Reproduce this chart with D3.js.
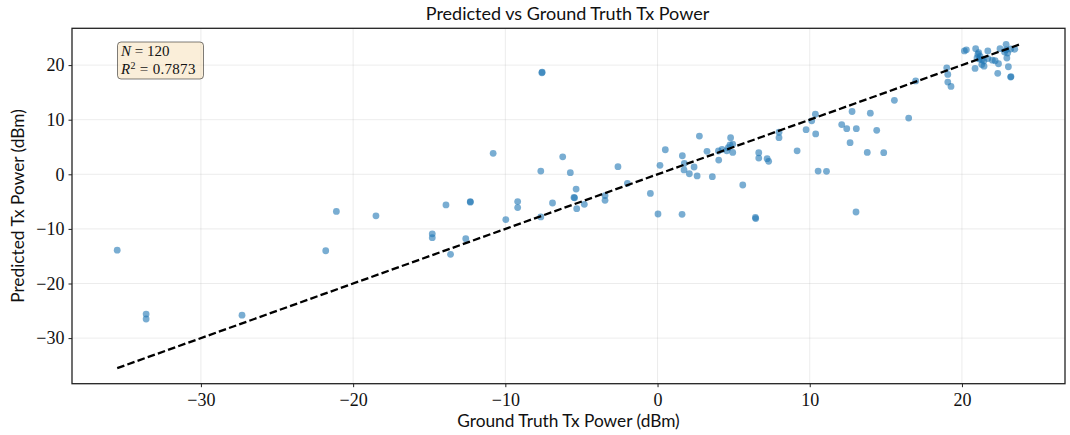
<!DOCTYPE html>
<html>
<head>
<meta charset="utf-8">
<script src="https://cdn.jsdelivr.net/npm/d3@7"></script>
<style>
  html, body { margin: 0; padding: 0; background: #fff; }
  svg { display: block; }
</style>
</head>
<body>
<svg id="chart" width="1070" height="435"></svg>
<script>
// ---- data ----
const groundTruth = [
  -35.5, -33.6, -33.6, -27.3, -21.8, -21.1, -18.5,
  -10.8, -13.9, -12.3, -12.3, -14.8, -14.8, -12.6, -13.6,
  -9.97, -9.19, -9.19, -7.67, -7.67, -6.9, -6.23, -5.73, -5.35, -5.49, -5.45, -5.31, -4.81,
  -3.45, -3.45, -2.6, -1.98, -0.47, 0.03, 0.16, 0.51,
  -7.6, -7.58,
  1.61, 1.63, 1.76, 1.74, 2.09, 2.4, 2.6, 2.75, 3.25, 3.6, 4.02,
  4.0, 4.24, 4.65, 4.76, 4.8, 4.94, 4.94, 4.55,
  5.6, 6.43, 6.45, 6.65, 6.65, 7.2, 7.3, 7.98, 7.98, 9.17, 9.76, 10.13, 10.37, 10.39,
  10.55, 11.1, 12.1, 12.43, 12.78, 12.65, 13.06, 13.04,
  13.98, 15.56, 16.5, 16.96, 19.0, 19.07, 19.07, 19.28, 14.4, 13.78, 14.86,
  20.16, 20.29, 20.9, 21.1, 21.14, 20.99, 20.86, 21.3, 21.45, 21.43, 21.7, 21.7, 22.0,
  22.18, 22.4, 22.35, 22.5, 22.9, 22.9, 23.0, 22.95, 23.05, 23.2, 23.22, 23.47, 23.2,
  21.2, 21.3, 22.8, 21.05
];
const predicted = [
  -13.9, -25.6, -26.5, -25.8, -14.0, -6.8, -7.6,
  3.85, -5.6, -5.0, -5.1, -10.9, -11.6, -11.8, -14.65,
  -8.3, -5.0, -6.1, 0.6, -7.8, -5.26, 3.2, 0.3, -2.7, -4.25, -4.3, -6.3, -5.5,
  -3.9, -4.77, 1.4, -1.65, -3.5, -7.27, 1.65, 4.5,
  18.6, 18.7,
  -7.33, 3.4, 2.0, 0.8, 0.1, 1.34, -0.3, 7.0, 4.2, -0.43, 2.6,
  4.27, 4.58, 4.87, 5.37, 6.7, 5.5, 4.0, 4.3,
  -1.96, -7.9, -8.1, 3.95, 2.98, 2.86, 2.38, 7.7, 6.7, 4.3, 8.17, 9.8, 11.0, 7.4,
  0.6, 0.55, 9.1, 8.35, 11.5, 5.8, 8.35, -6.9,
  11.2, 13.55, 10.3, 17.1, 19.5, 18.3, 16.9, 16.1, 8.05, 4.0, 3.96,
  22.6, 22.8, 23.0, 22.3, 21.1, 21.3, 19.4, 20.1, 19.8, 20.75, 22.6, 21.2, 20.9,
  20.8, 20.25, 18.5, 23.0, 23.8, 22.8, 22.2, 21.3, 19.7, 17.8, 17.9, 22.9, 22.95,
  21.6, 21.0, 22.4, 22.0
];
const xTicks = [-30, -20, -10, 0, 10, 20];
const yTicks = [-30, -20, -10, 0, 10, 20];
const identityRange = [-35.5, 23.8];
const titleText = "Predicted vs Ground Truth Tx Power";
const xLabelText = "Ground Truth Tx Power (dBm)";
const yLabelText = "Predicted Tx Power (dBm)";
const nCount = 120;
const r2Value = "0.7873";

// ---- layout ----
const svg = d3.select("#chart");
const pLeft = 72, pRight = 1065, pTop = 28.3, pBottom = 383.7;
const x = d3.scaleLinear().domain([-38.47, 26.77]).range([pLeft, pRight]);
const y = d3.scaleLinear().domain([-38.35, 26.74]).range([pBottom, pTop]);

const fmt = d => (d < 0 ? "\u2212" + Math.abs(d) : String(d));
const tickFont = "'Liberation Serif', 'DejaVu Serif', serif";
const sansFont = "Lato, 'Noto Sans', sans-serif";

// grid
const grid = svg.append("g");
grid.selectAll("line.vx").data(xTicks).join("line").attr("class", "vx")
  .attr("x1", d => x(d)).attr("x2", d => x(d))
  .attr("y1", pTop).attr("y2", pBottom)
  .attr("stroke", "#b0b0b0").attr("stroke-opacity", 0.3).attr("stroke-width", 0.8);
grid.selectAll("line.hy").data(yTicks).join("line").attr("class", "hy")
  .attr("y1", d => y(d)).attr("y2", d => y(d))
  .attr("x1", pLeft).attr("x2", pRight)
  .attr("stroke", "#b0b0b0").attr("stroke-opacity", 0.3).attr("stroke-width", 0.8);

// points
svg.append("g").selectAll("circle").data(groundTruth.map((g, i) => [g, predicted[i]])).join("circle")
  .attr("cx", d => x(d[0])).attr("cy", d => y(d[1]))
  .attr("r", 3.4)
  .attr("fill", "#1f77b4").attr("fill-opacity", 0.6);

// identity line
svg.append("line")
  .attr("x1", x(identityRange[0])).attr("y1", y(identityRange[0]))
  .attr("x2", x(identityRange[1])).attr("y2", y(identityRange[1]))
  .attr("stroke", "#000").attr("stroke-width", 2.3)
  .attr("stroke-dasharray", "7.6,3.2");

// axes
const xAxis = d3.axisBottom(x).tickValues(xTicks).tickFormat(fmt).tickSize(3.5).tickPadding(4);
const yAxis = d3.axisLeft(y).tickValues(yTicks).tickFormat(fmt).tickSize(3.5).tickPadding(4);
const gx = svg.append("g").attr("transform", `translate(0,${pBottom})`).call(xAxis);
const gy = svg.append("g").attr("transform", `translate(${pLeft},0)`).call(yAxis);
[gx, gy].forEach(g => {
  g.attr("font-family", null).attr("font-size", null);
  g.select(".domain").remove();
  g.selectAll(".tick line").attr("stroke", "#222").attr("stroke-width", 1);
  g.selectAll(".tick text").attr("fill", "#111").style("font-family", tickFont).style("font-size", "18px");
});
gx.selectAll(".tick text").attr("dy", "0.8em");

// frame
svg.append("rect").attr("x", pLeft).attr("y", pTop)
  .attr("width", pRight - pLeft).attr("height", pBottom - pTop)
  .attr("fill", "none").attr("stroke", "#222").attr("stroke-width", 1.3);

// title & labels
svg.append("text").attr("x", (pLeft + pRight) / 2 - 1).attr("y", 20)
  .attr("text-anchor", "middle").style("font-family", sansFont).style("font-size", "18px")
  .attr("fill", "#111").text(titleText);
svg.append("text").attr("x", (pLeft + pRight) / 2).attr("y", 427)
  .attr("text-anchor", "middle").style("font-family", sansFont).style("font-size", "17.3px")
  .attr("fill", "#111").text(xLabelText);
svg.append("text").attr("transform", `translate(24,${(pTop + pBottom) / 2}) rotate(-90)`)
  .attr("text-anchor", "middle").style("font-family", sansFont).style("font-size", "17.3px")
  .attr("fill", "#111").text(yLabelText);

// annotation box
const box = svg.append("g");
box.append("rect").attr("x", 117.5).attr("y", 42).attr("width", 86).attr("height", 37)
  .attr("rx", 3.5).attr("fill", "#f5deb3").attr("fill-opacity", 0.5)
  .attr("stroke", "#000").attr("stroke-opacity", 0.5).attr("stroke-width", 1);
const t1 = box.append("text").attr("x", 121).attr("y", 55.5)
  .style("font-family", tickFont).style("font-size", "15px").attr("fill", "#111");
t1.append("tspan").style("font-style", "italic").text("N");
t1.append("tspan").text(" = " + nCount);
const t2 = box.append("text").attr("x", 121).attr("y", 73.5)
  .style("font-family", tickFont).style("font-size", "15px").attr("fill", "#111")
  .attr("letter-spacing", "0.3");
t2.append("tspan").style("font-style", "italic").text("R");
t2.append("tspan").attr("dy", -5).style("font-size", "10px").text("2");
t2.append("tspan").attr("dy", 5).text(" = " + r2Value);
</script>
</body>
</html>
